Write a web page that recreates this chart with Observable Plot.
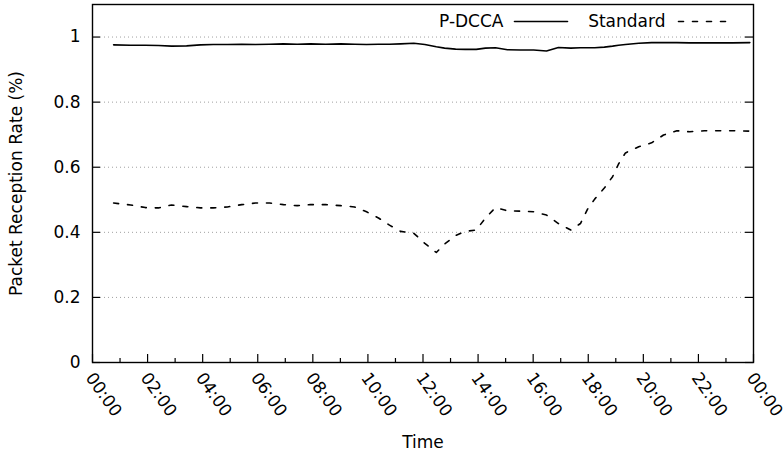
<!DOCTYPE html>
<html>
<head>
<meta charset="utf-8">
<script src="https://cdn.jsdelivr.net/npm/d3@7"></script>
<script src="https://cdn.jsdelivr.net/npm/@observablehq/plot@0.6"></script>
<style>
  html, body { margin: 0; padding: 0; background: #fff; }
  #chart { width: 783px; height: 453px; overflow: hidden; }
</style>
</head>
<body>
<div id="chart"></div>
<script>
// ---- data ----
const times = ["00:46","01:23","01:55","02:24","02:52","03:25","03:55","04:23","04:54","05:25",
  "05:55","06:26","06:56","07:26","07:55","08:28","09:01","09:31","09:57","10:23",
  "10:47","11:11","11:40","12:04","12:29","12:47","13:11","13:32","13:56","14:16",
  "14:38","15:04","15:32","16:01","16:29","16:55","17:22","17:43","17:58","18:14",
  "18:35","18:53","19:06","19:21","19:50","20:18","20:44","21:13","21:41","22:13",
  "22:46","23:14","23:52"];
const pdcca = [0.976,0.975,0.975,0.974,0.972,0.973,0.976,0.977,0.977,0.978,
  0.977,0.978,0.979,0.978,0.979,0.978,0.979,0.978,0.977,0.978,
  0.978,0.979,0.981,0.977,0.970,0.966,0.963,0.962,0.962,0.966,
  0.967,0.961,0.960,0.960,0.957,0.968,0.966,0.967,0.967,0.967,
  0.969,0.972,0.975,0.977,0.981,0.983,0.983,0.983,0.982,0.982,
  0.982,0.982,0.983];
const standard = [0.490,0.484,0.476,0.475,0.484,0.479,0.475,0.475,0.478,0.485,
  0.490,0.490,0.485,0.482,0.485,0.485,0.482,0.478,0.463,0.444,
  0.422,0.403,0.397,0.366,0.338,0.364,0.390,0.403,0.407,0.444,
  0.476,0.466,0.465,0.463,0.453,0.427,0.407,0.427,0.470,0.502,
  0.536,0.571,0.610,0.644,0.663,0.675,0.699,0.712,0.709,0.712,
  0.712,0.712,0.711];
const seriesNames = ["P-DCCA", "Standard"];
const yTicks = [0, 0.2, 0.4, 0.6, 0.8, 1];
const xMajorHours = [0,2,4,6,8,10,12,14,16,18,20,22,24];
const xMinorHours = [1,3,5,7,9,11,13,15,17,19,21,23];
const yDomain = [0, 1.1];

// ---- build table ----
const day = (h, m = 0) => new Date(Date.UTC(2000, 0, 1, h, m));
const parseT = s => { const [h, m] = s.split(":").map(Number); return day(h, m); };
const data = times.map((t, i) => ({time: parseT(t), pdcca: pdcca[i], standard: standard[i]}));
const majorDates = xMajorHours.map(h => day(h));
const minorDates = xMinorHours.map(h => day(h));
const fmt = d3.utcFormat("%H:%M");

const lineShape = { draw(context, l) { context.moveTo(0, 0); context.lineTo(0, -l); } };
const dash = "5,9";

const chart = Plot.plot({
  width: 783,
  height: 453,
  marginLeft: 92,
  marginRight: 30,
  marginTop: 4,
  marginBottom: 91,
  style: {fontFamily: "DejaVu Sans", fontSize: "17px", background: "#fff", color: "#000", overflow: "visible"},
  x: {type: "utc", domain: [day(0), day(24)], axis: null},
  y: {domain: yDomain, axis: null},
  marks: [
    // grid
    Plot.ruleY(yTicks.filter(d => d > 0), {stroke: "#a0a0a0", strokeDasharray: "1,3", insetLeft: 8, insetRight: 8}),
    // data lines
    Plot.line(data, {x: "time", y: "pdcca", stroke: "#000", strokeWidth: 1.6}),
    Plot.line(data, {x: "time", y: "standard", stroke: "#000", strokeWidth: 1.6, strokeDasharray: dash}),
    // frame
    Plot.frame({stroke: "#000", strokeWidth: 1.4}),
    // y ticks (left and right, inward)
    Plot.ruleY(yTicks, {stroke: "#000", strokeWidth: 1.2, insetRight: 653}),
    Plot.ruleY(yTicks, {stroke: "#000", strokeWidth: 1.2, insetLeft: 653}),
    // x ticks (bottom, inward)
    Plot.ruleX(majorDates, {stroke: "#000", strokeWidth: 1.2, insetTop: 350}),
    Plot.ruleX(minorDates, {stroke: "#000", strokeWidth: 1.2, insetTop: 354}),
    // y tick labels
    Plot.text(yTicks, {y: d => d, frameAnchor: "left", dx: -12, textAnchor: "end", lineAnchor: "middle", text: d => String(d)}),
    // x tick labels
    Plot.text(majorDates, {x: d => d, frameAnchor: "bottom", dx: -3, dy: 12, rotate: 55, textAnchor: "start", lineAnchor: "middle", text: d => fmt(d)}),
    // axis titles
    Plot.text(["Time"], {frameAnchor: "bottom", dy: 85, textAnchor: "middle", lineAnchor: "bottom", text: d => d}),
    Plot.text(["Packet Reception Rate (%)"], {frameAnchor: "left", dx: -76, rotate: -90, textAnchor: "middle", lineAnchor: "middle", text: d => d}),
    // legend
    Plot.text([seriesNames[0]], {frameAnchor: "top-right", dx: -250, dy: 17, textAnchor: "end", lineAnchor: "middle", text: d => d}),
    Plot.vector([0], {frameAnchor: "top-right", dx: -239, dy: 17, length: 53, rotate: 90, anchor: "start", shape: lineShape, stroke: "#000", strokeWidth: 1.6}),
    Plot.text([seriesNames[1]], {frameAnchor: "top-right", dx: -88, dy: 17, textAnchor: "end", lineAnchor: "middle", text: d => d}),
    Plot.vector([0], {frameAnchor: "top-right", dx: -75, dy: 17, length: 49, rotate: 90, anchor: "start", shape: lineShape, stroke: "#000", strokeWidth: 1.6, strokeDasharray: dash})
  ]
});
document.getElementById("chart").appendChild(chart);
</script>
</body>
</html>
